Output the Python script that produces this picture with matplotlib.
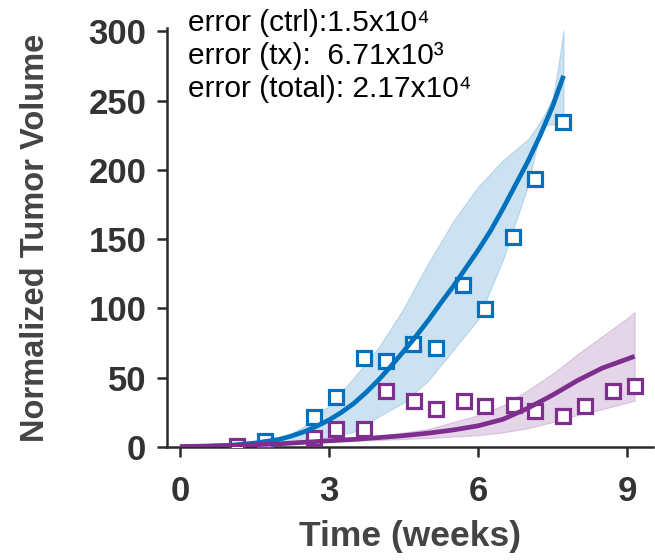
import numpy as np
import matplotlib
matplotlib.use("Agg")
import matplotlib.pyplot as plt

plt.rcParams['font.family'] = ['Liberation Sans', 'DejaVu Sans']

# measured data (weeks, normalized volume)
ctrl_t = [1.71, 2.70, 3.14, 3.71, 4.14, 4.70, 5.15, 5.70, 6.14, 6.71, 7.14, 7.71]
ctrl_v = [4.3, 21.4, 35.8, 64.0, 62.2, 74.2, 71.3, 116.9, 99.4, 151.8, 193.6, 234.4]
tx_t = [1.14, 2.70, 3.15, 3.71, 4.14, 4.71, 5.15, 5.71, 6.14, 6.72, 7.15, 7.71, 8.15, 8.72, 9.15]
tx_v = [0.5, 6.3, 13.0, 13.0, 40.6, 33.4, 27.4, 33.4, 29.8, 30.3, 26.2, 22.5, 29.8, 40.6, 43.7]

# model fit, ctrl
fit_ctrl_t = [0, 0.5, 1, 1.5, 2, 2.25, 2.5, 2.75, 3, 3.25, 3.5, 3.75, 4, 4.25, 4.5,
              4.75, 5, 5.25, 5.5, 5.75, 6, 6.25, 6.5, 6.75, 7, 7.25, 7.5, 7.72]
fit_ctrl_v = [0, 0.4, 1.2, 2.8, 5.5, 8, 11, 15, 19.5, 25, 31.5, 39.5, 48.5, 58.5, 69,
              80, 91.5, 104, 116, 129, 142, 156, 172, 189, 206, 225, 246, 268]
band_ctrl_t = [1.5, 2, 2.5, 3, 3.5, 4, 4.5, 5, 5.5, 6, 6.5, 7, 7.2, 7.35, 7.5, 7.6, 7.72]
band_ctrl_lo = [2.5, 3.5, 5, 7, 11, 22, 32, 48, 70, 92, 135, 188, 220, 232, 233, 233, 233]
band_ctrl_hi = [3, 5, 15, 30, 50, 72, 100, 133, 163, 188, 207, 222, 232, 241, 252, 272, 301]

# model fit, tx
fit_tx_t = [0, 1, 2, 3, 3.5, 4, 4.5, 5, 5.5, 6, 6.5, 7, 7.5, 8, 8.5, 9, 9.15]
fit_tx_v = [0.3, 1, 2.3, 4.5, 5.5, 6.8, 8.2, 10, 12.3, 15.3, 20, 28, 37.5, 48, 57, 63.5, 65.5]
band_tx_t = [0, 2, 3, 4, 5, 6, 6.5, 7, 7.5, 8, 8.5, 9, 9.15]
band_tx_lo = [0.3, 2, 3.8, 5, 6.5, 8.5, 10.5, 13.5, 18, 23, 27.3, 32, 33.4]
band_tx_hi = [0.3, 2.5, 5, 8, 13, 23, 30, 41, 53, 67, 80, 93, 97.5]

blue = "#0072BD"
purple = "#7E2F8E"
dark = "#2b2b2b"

fig = plt.figure(figsize=(6.55, 5.6), dpi=100)
ax = fig.add_axes([167/655, 1-447/560, (653-167)/655, (447-28)/560])

ax.fill_between(band_ctrl_t, band_ctrl_lo, band_ctrl_hi, color=blue, alpha=0.2, lw=0.8)
ax.fill_between(band_tx_t, band_tx_lo, band_tx_hi, color=purple, alpha=0.2, lw=0.8)

ax.plot(ctrl_t, ctrl_v, 's', ms=9.5, mfc="white", mec=blue, mew=2.3, zorder=3)
ax.plot(tx_t, tx_v, 's', ms=9.5, mfc="white", mec=purple, mew=2.3, zorder=3)

ax.plot(fit_ctrl_t, fit_ctrl_v, color=blue, lw=3.4, zorder=4, solid_capstyle="butt")
ax.plot(fit_tx_t, fit_tx_v, color=purple, lw=3.4, zorder=4, solid_capstyle="butt")

ax.set_xlim(-0.26, 9.52)
ax.set_ylim(0, 302.5)
ax.set_xticks([0, 3, 6, 9])
ax.set_yticks([0, 50, 100, 150, 200, 250, 300])

for s in ["top", "right"]:
    ax.spines[s].set_visible(False)
for s in ["left", "bottom"]:
    ax.spines[s].set_linewidth(1.8)
    ax.spines[s].set_color(dark)

ax.tick_params(axis="both", direction="out", length=7, width=1.8, color=dark,
               labelsize=25, labelcolor="#333333")
ax.tick_params(axis="x", pad=13)
ax.tick_params(axis="y", pad=8)
for lab in ax.get_xticklabels() + ax.get_yticklabels():
    lab.set_fontweight("bold")

ax.set_xlabel("Time (weeks)", fontsize=25.5, fontweight="bold", color="#444444", labelpad=9)
ax.set_ylabel("Normalized Tumor Volume", fontsize=23.5, fontweight="bold", color="#444444", labelpad=27)

txt = ["error (ctrl):1.5x10\u2074", "error (tx):  6.71x10\u00b3", "error (total): 2.17x10\u2074"]
for i, s in enumerate(txt):
    ax.text(0.16, 300 - i*23.5, s, fontsize=21.5, color="black", va="baseline", ha="left", clip_on=False)

fig.savefig("out.png", dpi=100)
